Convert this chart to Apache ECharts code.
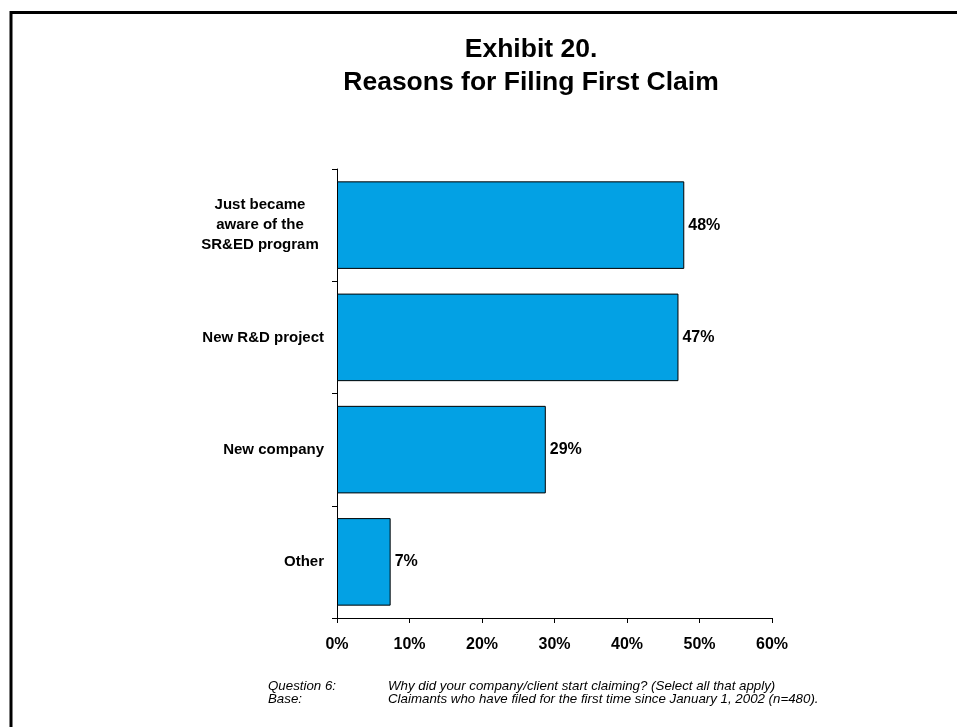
<!DOCTYPE html>
<html>
<head>
<meta charset="utf-8">
<script src="https://cdn.jsdelivr.net/npm/echarts@6/dist/echarts.min.js"></script>
<style>
  html, body { margin: 0; padding: 0; background: #fff; }
  #chart { width: 957px; height: 727px; }
</style>
</head>
<body>
<div id="chart"></div>
<script>
// Reasons for filing a first SR&ED claim (share of respondents, %)
const categories = [
  'Just became\naware of the\nSR&ED program',
  'New R&D project',
  'New company',
  'Other'
];
const shares = [47.9, 47.1, 28.8, 7.4];
const tickLabels = ['0%', '10%', '20%', '30%', '40%', '50%', '60%'];

const titleLines = ['Exhibit 20.', 'Reasons for Filing First Claim'];
const noteKeys = ['Question 6:', 'Base:'];
const noteTexts = [
  'Why did your company/client start claiming? (Select all that apply)',
  'Claimants who have filed for the first time since January 1, 2002 (n=480).'
];

const FONT = '"Liberation Sans", Arial, Helvetica, sans-serif';
const chart = echarts.init(document.getElementById('chart'));

// footnote block: label column + text column
const notes = [];
noteKeys.forEach((k, i) => {
  notes.push({
    type: 'text', left: 268, top: 680 + i * 12.5,
    style: { text: k, font: 'italic 13.3px ' + FONT, fill: '#000' }
  });
  notes.push({
    type: 'text', left: 388, top: 680 + i * 12.5,
    style: { text: noteTexts[i], font: 'italic 13.3px ' + FONT, fill: '#000' }
  });
});

chart.setOption({
  animation: false,
  backgroundColor: '#fff',
  title: {
    text: titleLines.join('\n'),
    left: 526, top: 28, textAlign: 'center',
    textStyle: { fontFamily: FONT, fontWeight: 'bold', fontSize: 26.5, lineHeight: 33, color: '#000' }
  },
  grid: { left: 337, top: 169, width: 435, height: 449, containLabel: false },
  xAxis: {
    type: 'value', min: 0, max: 60, interval: 10,
    axisLine: { show: true, lineStyle: { color: '#000', width: 1 } },
    axisTick: { show: true, length: 5, lineStyle: { color: '#000' } },
    splitLine: { show: false },
    axisLabel: {
      margin: 19,
      fontFamily: FONT, fontWeight: 'bold', fontSize: 16, color: '#000',
      formatter: v => tickLabels[Math.round(v / 10)]
    }
  },
  yAxis: {
    type: 'category', data: categories, inverse: true,
    axisLine: { show: true, lineStyle: { color: '#000', width: 1 } },
    axisTick: { show: true, length: 5, inside: false, lineStyle: { color: '#000' } },
    axisLabel: {
      margin: 13,
      fontFamily: FONT, fontWeight: 'bold', fontSize: 15, color: '#000',
      lineHeight: 20,
      formatter: v => v.indexOf('\n') >= 0
        ? v.split('\n').map(s => '{c|' + s + '}').join('\n')
        : v,
      rich: {
        c: { fontFamily: FONT, fontWeight: 'bold', fontSize: 15, lineHeight: 20, color: '#000', width: 128, align: 'center' }
      }
    }
  },
  series: [{
    type: 'bar',
    data: shares,
    barCategoryGap: '22%',
    itemStyle: { color: '#03A1E4', borderColor: '#000', borderWidth: 1 },
    label: {
      show: true, position: 'right', distance: 4,
      fontFamily: FONT, fontWeight: 'bold', fontSize: 16, color: '#000',
      formatter: p => Math.round(p.value) + '%'
    }
  }],
  graphic: [
    {
      type: 'rect', silent: true,
      shape: { x: 11, y: 12.5, width: 1028, height: 1000 },
      style: { fill: 'none', stroke: '#000', lineWidth: 3 }
    }
  ].concat(notes)
});
</script>
</body>
</html>
